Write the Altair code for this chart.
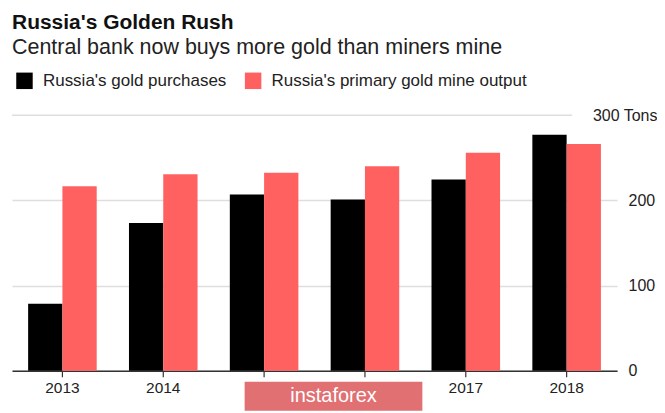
import altair as alt
import pandas as pd

years = ["2013", "2014", "2015", "2016", "2017", "2018"]
purchases = [78.5, 173.5, 207, 201, 224.5, 277]
mine_output = [216.5, 230.5, 232.5, 240, 256, 266]
series_names = ["Russia's gold purchases", "Russia's primary gold mine output"]
series_colors = ["#000000", "#ff6161"]
y_ticks = [0, 100, 200, 300]
hidden_year_labels = ["2015", "2016"]  # covered by the watermark in the reference

rows = []
for i, yr in enumerate(years):
    rows.append({"year": yr, "series": series_names[0], "value": purchases[i]})
    rows.append({"year": yr, "series": series_names[1], "value": mine_output[i]})
df = pd.DataFrame(rows)

FONT = "Liberation Sans"

hide_expr = " || ".join("datum.label == '%s'" % h for h in hidden_year_labels)

bars = alt.Chart(df).mark_bar().encode(
    x=alt.X(
        "year:N",
        sort=years,
        scale=alt.Scale(paddingInner=0.32, paddingOuter=0.16),
        axis=alt.Axis(
            title=None,
            labelAngle=0,
            labelFontSize=15.5,
            labelColor="#222222",
            labelPadding=4,
            labelExpr="(" + hide_expr + ") ? '' : datum.label",
            tickSize=6,
            tickColor="#333333",
            tickWidth=1.2,
            domainColor="#333333",
            domainWidth=1.5,
            grid=False,
        ),
    ),
    xOffset=alt.XOffset("series:N", sort=series_names),
    y=alt.Y(
        "value:Q",
        scale=alt.Scale(domain=[0, 300], nice=False),
        axis=alt.Axis(
            title=None,
            orient="right",
            values=y_ticks,
            domain=False,
            ticks=False,
            labelFontSize=16,
            labelColor="#222222",
            labelExpr="datum.value == 300 ? '300 Tons' : datum.label",
            labelAlign={"condition": {"test": "datum.value == 300", "value": "right"}, "value": "left"},
            labelPadding={"condition": {"test": "datum.value == 300", "value": 40}, "value": 11},
            grid=True,
            gridColor="#dedede",
            gridWidth=1.5,
            gridOpacity={"condition": {"test": "datum.value == 300", "value": 0}, "value": 1},
        ),
    ),
    color=alt.Color(
        "series:N",
        sort=series_names,
        scale=alt.Scale(domain=series_names, range=series_colors),
        legend=alt.Legend(
            title=None,
            orient="none",
            legendX=4,
            legendY=-43,
            direction="horizontal",
            symbolType="square",
            symbolSize=272,
            symbolStrokeWidth=0,
            symbolOpacity=1,
            labelFontSize=17,
            labelLimit=0,
            labelColor="#222222",
            labelOffset=10,
            columnPadding=18,
            padding=0,
        ),
    ),
)

top_grid = alt.Chart(pd.DataFrame({"g": [300]})).mark_rule(
    color="#dedede", strokeWidth=1.5
).encode(y=alt.datum(300), x=alt.value(0), x2=alt.value(561))

wm_box = alt.Chart(pd.DataFrame({"t": ["instaforex"]})).mark_rect(
    color="#e06b6e", opacity=0.97
).encode(x=alt.value(233), x2=alt.value(411), y=alt.value(267), y2=alt.value(296))

wm_text = alt.Chart(pd.DataFrame({"t": ["instaforex"]})).mark_text(
    color="#ffffff", fontSize=20, align="center", baseline="middle", font=FONT
).encode(x=alt.value(322), y=alt.value(281), text="t:N")

chart = alt.layer(top_grid, bars, wm_box, wm_text).properties(
    width=606,
    height=256,
    padding={"left": 3, "top": 3, "right": 0, "bottom": 0},
    title=alt.TitleParams(
        text="Russia's Golden Rush",
        subtitle="Central bank now buys more gold than miners mine",
        anchor="start",
        frame="group",
        font=FONT,
        fontSize=21,
        fontWeight="bold",
        color="#111111",
        subtitleFont=FONT,
        subtitleFontSize=21.5,
        subtitleColor="#222222",
        subtitlePadding=4,
        offset=14,
    ),
).configure(font=FONT).configure_view(stroke=None)

chart.save("out.html", embed_options={"renderer": "svg", "actions": False})
